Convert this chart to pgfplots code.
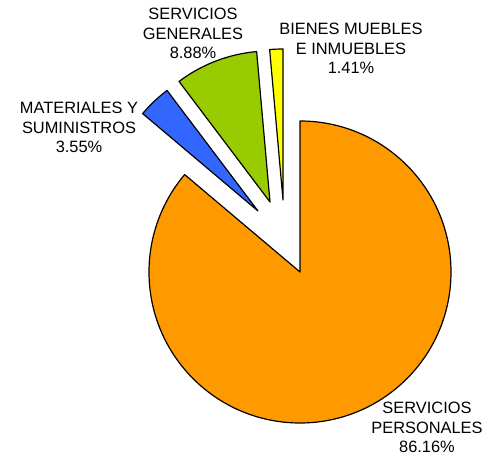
\documentclass[border=0pt]{standalone}
\usepackage{pgfplots}
\pgfplotsset{compat=1.18}
\usepackage{fontspec}
\setmainfont{Liberation Sans}
\definecolor{cOrange}{HTML}{FF9900}
\definecolor{cBlue}{HTML}{3366FF}
\definecolor{cGreen}{HTML}{99CC00}
\definecolor{cYellow}{HTML}{FFFF00}
% slice values (percent)
\def\vPers{86.16}
\def\vMat{3.55}
\def\vGen{8.88}
\def\vBien{1.41}
\def\R{151bp}
\begin{document}
\begin{tikzpicture}
\pgfmathsetmacro{\aA}{90}
\pgfmathsetmacro{\aB}{90-3.6*\vPers+360}
\pgfmathsetmacro{\aC}{\aB-3.6*\vMat}
\pgfmathsetmacro{\aD}{\aC-3.6*\vGen}
\pgfmathsetmacro{\aE}{\aD-3.6*\vBien}
\begin{axis}[
  scale only axis, width=486bp, height=455bp,
  xmin=0, xmax=486, ymin=0, ymax=455,
  hide axis, clip=false,
]
\path (axis cs:0,0) rectangle (axis cs:486,455);
% Servicios personales
\filldraw[fill=cOrange, draw=black, line width=1.2bp, line join=round]
  (axis cs:300,183) -- ++(\aA:\R) arc[start angle=\aA, end angle=\aB-360, radius=\R] -- cycle;
% Materiales y suministros (exploded)
\filldraw[fill=cBlue, draw=black, line width=1.2bp, line join=round]
  (axis cs:258,244) -- ++(\aB:\R) arc[start angle=\aB, end angle=\aC, radius=\R] -- cycle;
% Servicios generales (exploded)
\filldraw[fill=cGreen, draw=black, line width=1.2bp, line join=round]
  (axis cs:270,253) -- ++(\aC:\R) arc[start angle=\aC, end angle=\aD, radius=\R] -- cycle;
% Bienes muebles e inmuebles (exploded)
\filldraw[fill=cYellow, draw=black, line width=1.2bp, line join=round]
  (axis cs:283,255) -- ++(\aD:\R) arc[start angle=\aD, end angle=\aE, radius=\R] -- cycle;
% labels
\tikzset{lbl/.style={align=center, inner sep=0pt, font=\fontsize{16.4bp}{19.3bp}\selectfont, text=black}}
\node[lbl] at (axis cs:427,27.5) {SERVICIOS\\PERSONALES\\86.16\%};
\node[lbl] at (axis cs:79,327.5) {MATERIALES Y\\SUMINISTROS\\3.55\%};
\node[lbl] at (axis cs:193,421.5) {SERVICIOS\\GENERALES\\8.88\%};
\node[lbl] at (axis cs:351,406.5) {BIENES MUEBLES\\E INMUEBLES\\1.41\%};
\end{axis}
\end{tikzpicture}
\end{document}
